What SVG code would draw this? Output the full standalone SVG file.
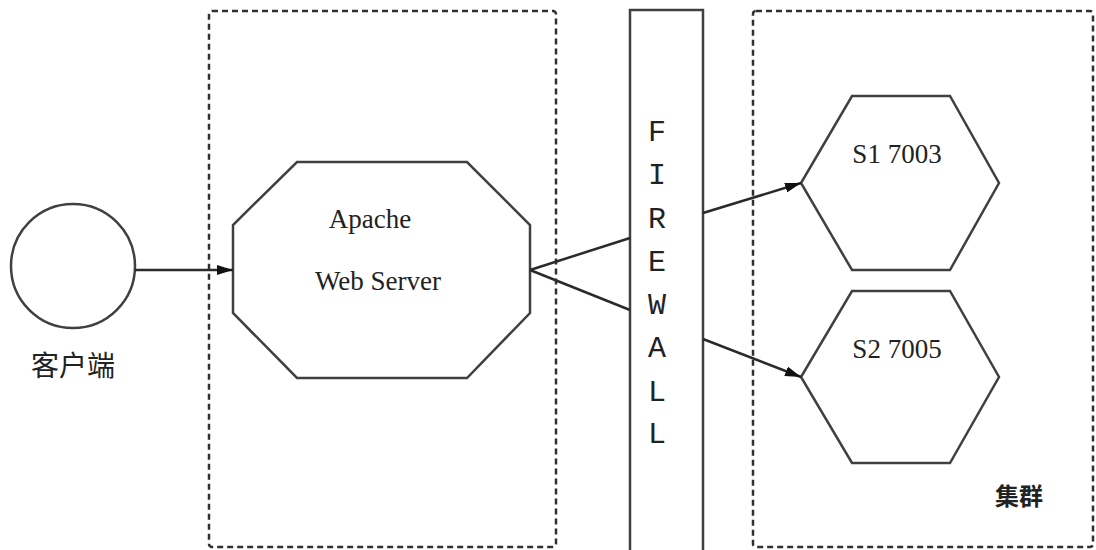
<svg xmlns="http://www.w3.org/2000/svg" width="1096" height="550" viewBox="0 0 1096 550">
<style>
.shape{fill:#fff;stroke:#404040;stroke-width:2.5}
.box{fill:none;stroke:#303030;stroke-width:2.5;stroke-dasharray:6 4}
.conn{fill:none;stroke:#2a2a2a;stroke-width:2.5}
.serif{font-family:"Liberation Serif","Times New Roman",serif;font-size:27px;fill:#222}
.mono{font-family:"Liberation Mono","Courier New",monospace;font-size:30px;fill:#222;text-anchor:middle}
.cjk{font-family:"Liberation Sans","Noto Sans CJK SC",sans-serif;fill:#222;text-anchor:middle}
</style>
<defs>
<marker id="arr" viewBox="0 0 16 10" refX="16" refY="5" markerWidth="16" markerHeight="10" markerUnits="userSpaceOnUse" orient="auto">
<path d="M0,0 L16,5 L0,10 Z" fill="#111"/>
</marker>
</defs>
<rect width="1096" height="550" fill="#fff"/>
<g id="zone-web">
<rect class="box" x="209" y="11" width="347" height="536" rx="3"/>
</g>
<g id="zone-cluster">
<rect class="box" x="753" y="11" width="340" height="536" rx="3"/>
<text class="cjk" x="1019" y="505" font-size="24" font-weight="bold">集群</text>
</g>
<g id="client">
<circle class="shape" cx="73" cy="266" r="62"/>
<text class="cjk" x="73" y="376" font-size="28">客户端</text>
</g>
<g id="apache">
<polygon class="shape" points="297,162 467,162 530,225 530,313 467,378 297,378 233,313 233,225"/>
<text class="serif" x="370" y="228" text-anchor="middle">Apache</text>
<text class="serif" x="378" y="290" text-anchor="middle">Web Server</text>
</g>
<g id="firewall">
<rect class="shape" x="630" y="10" width="73" height="545"/>
<text class="mono" x="657" y="141">F</text>
<text class="mono" x="657" y="184">I</text>
<text class="mono" x="657" y="228">R</text>
<text class="mono" x="657" y="271">E</text>
<text class="mono" x="657" y="314">W</text>
<text class="mono" x="657" y="357">A</text>
<text class="mono" x="657" y="401">L</text>
<text class="mono" x="657" y="443">L</text>
</g>
<g id="s1">
<polygon class="shape" points="852,96 950,96 999,183 950,270 852,270 801,183"/>
<text class="serif" x="897" y="163" text-anchor="middle">S1 7003</text>
</g>
<g id="s2">
<polygon class="shape" points="852,291 950,291 999,377 950,463 852,463 801,377"/>
<text class="serif" x="897" y="358" text-anchor="middle">S2 7005</text>
</g>
<g id="connectors">
<line class="conn" x1="135" y1="270" x2="233" y2="270" marker-end="url(#arr)"/>
<line class="conn" x1="530" y1="270" x2="630" y2="238"/>
<line class="conn" x1="530" y1="270" x2="630" y2="310"/>
<line class="conn" x1="703" y1="213" x2="801" y2="183" marker-end="url(#arr)"/>
<line class="conn" x1="703" y1="339" x2="801" y2="377" marker-end="url(#arr)"/>
</g>
</svg>
